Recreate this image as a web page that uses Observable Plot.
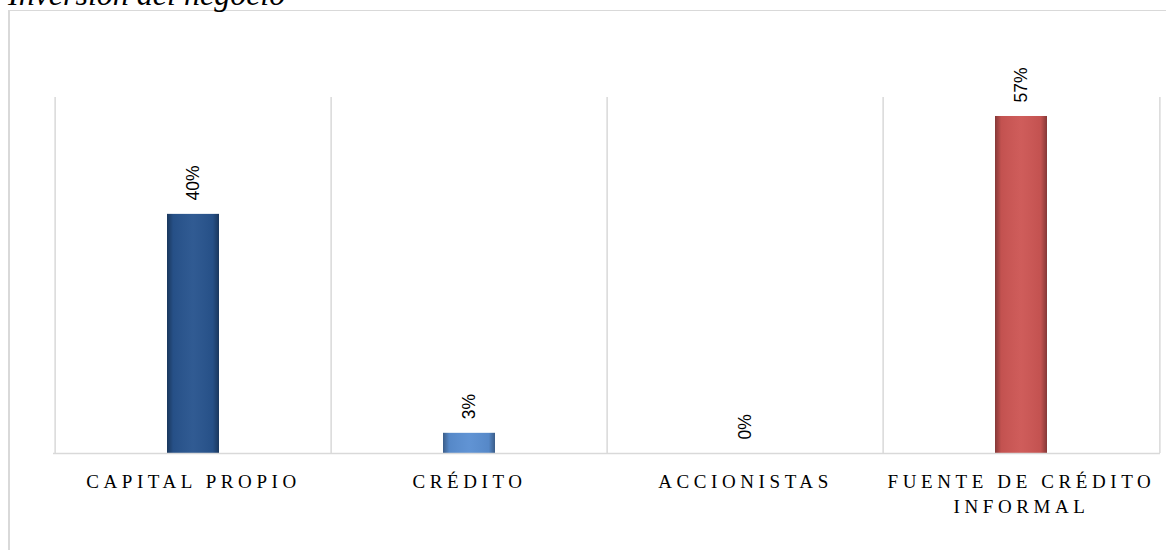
<!DOCTYPE html>
<html>
<head>
<meta charset="utf-8">
<script src="https://cdn.jsdelivr.net/npm/d3@7"></script>
<script src="https://cdn.jsdelivr.net/npm/@observablehq/plot@0.6"></script>
<style>
  html, body { margin: 0; padding: 0; background: #fff; overflow: hidden; }
  #wrap { position: relative; width: 1166px; height: 550px; overflow: hidden; }
  #title { position: absolute; left: 8px; top: -22px; font: italic 32px "Liberation Serif", serif; line-height: 32px; color: #000; white-space: nowrap; }
  #box { position: absolute; left: 8px; top: 10px; width: 1300px; height: 700px; border-left: 2px solid #d9d9d9; border-top: 1.5px solid #d9d9d9; }
  #chart { position: absolute; left: 0; top: 0; }
  .xax text { letter-spacing: 4.6px; }
</style>
</head>
<body>
<div id="wrap">
  <div id="box"></div>
  <div id="title">Inversión del negocio</div>
  <div id="chart"></div>
</div>
<script>
const categories = ["CAPITAL PROPIO", "CRÉDITO", "ACCIONISTAS", "FUENTE DE CRÉDITO\nINFORMAL"];
const shares = [0.403, 0.034, 0, 0.568];
const barColors = ["#28548e", "#5a8fd2", "#ffffff", "#cd5654"];

const data = categories.map((c, i) => ({category: c, share: shares[i]}));
const fmt = d3.format(".0%");
const half = (1160 - 53) / categories.length / 2;

const chart = Plot.plot({
  width: 1166,
  height: 550,
  marginLeft: 53,
  marginRight: 6,
  marginTop: 97,
  marginBottom: 97,
  style: {background: "transparent", overflow: "visible"},
  x: {domain: categories, padding: 0, label: null},
  y: {domain: [0, 0.6], axis: null},
  color: {domain: categories, range: barColors},
  marks: [
    Plot.ruleX(categories, {x: d => d, dx: -half, y1: 0, y2: 0.6, stroke: "#d9d9d9", strokeWidth: 1.5}),
    Plot.ruleX(categories.slice(-1), {x: d => d, dx: half, y1: 0, y2: 0.6, stroke: "#d9d9d9", strokeWidth: 1.5}),
    Plot.barY(data, {x: "category", y: "share", fill: "category", insetLeft: 112, insetRight: 112}),
    Plot.barY(data.filter(d => d.share > 0), {x: "category", y: "share", fill: "url(#bevelH)", insetLeft: 112, insetRight: 112}),
    Plot.ruleY([0], {stroke: "#d9d9d9", strokeWidth: 1.5}),
    Plot.text(data, {
      x: "category", y: "share", text: d => fmt(d.share),
      rotate: -90, textAnchor: "start", lineAnchor: "middle", dy: -14,
      fontSize: 17.5, fontFamily: "Liberation Sans, sans-serif", fill: "#000"
    }),
    Plot.axisX({
      className: "xax", tickSize: 0, tickPadding: 16, fontSize: 19, lineHeight: 1.35,
      fontFamily: "Liberation Serif, serif", fill: "#000", label: null
    })
  ]
});

const ns = "http://www.w3.org/2000/svg";
const defs = document.createElementNS(ns, "defs");
defs.innerHTML = `
  <linearGradient id="bevelH" x1="0" x2="1" y1="0" y2="0">
    <stop offset="0" stop-color="#000" stop-opacity="0.35"/>
    <stop offset="0.12" stop-color="#000" stop-opacity="0.05"/>
    <stop offset="0.5" stop-color="#fff" stop-opacity="0.04"/>
    <stop offset="0.88" stop-color="#000" stop-opacity="0.05"/>
    <stop offset="1" stop-color="#000" stop-opacity="0.35"/>
  </linearGradient>`;
chart.insertBefore(defs, chart.firstChild);
document.getElementById("chart").appendChild(chart);
</script>
</body>
</html>
